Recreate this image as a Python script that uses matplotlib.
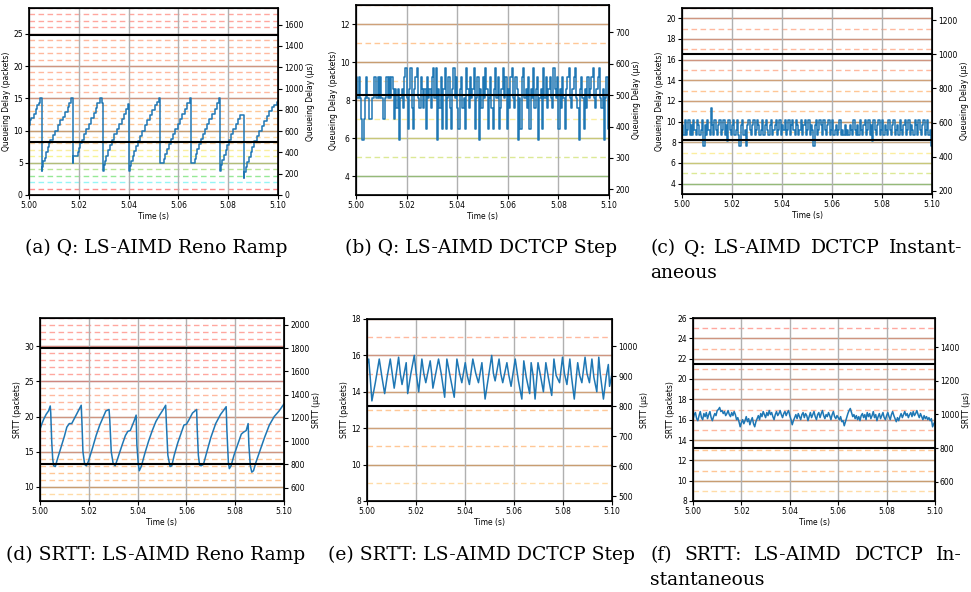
import matplotlib
matplotlib.use('Agg')
import matplotlib.pyplot as plt
from matplotlib.ticker import MultipleLocator, FormatStrFormatter
import numpy as np

US_PER_PKT = 60.56  # one 1514 B packet at 200 Mb/s, in microseconds

# (a) Q: LS-AIMD Reno Ramp -- step vertices, ms after 5.00 s / packets
a_ms = [0.0, 0.5, 1.0, 2.0, 2.8, 3.3, 4.2, 4.6, 5.1,
        5.4, 5.8, 6.3, 6.8, 7.5, 8.0, 8.6, 9.5, 10.5, 11.5, 12.5, 13.5, 14.5, 15.5, 16.2, 17.0, 17.6, 17.8,
        19.5, 20.0, 20.5, 21.2, 22.0, 23.0, 24.0, 25.0, 26.0, 26.8, 27.2, 28.5, 29.2, 29.6,
        30.0, 30.5, 31.0, 31.8, 32.5, 33.3, 34.3, 35.2, 36.2, 37.2, 38.0, 38.8, 39.6, 40.2,
        40.6, 41.0, 41.6, 42.2, 43.0, 43.7, 44.5, 45.5, 46.5, 47.5, 48.5, 49.5, 50.5, 51.5, 52.4, 52.8, 54.3,
        54.8, 55.5, 56.2, 57.0, 57.8, 58.8, 59.7, 60.6, 61.5, 62.5, 63.5, 64.6, 65.0, 66.6,
        67.0, 67.6, 68.2, 69.0, 69.8, 70.6, 71.5, 72.4, 73.4, 74.5, 75.5, 76.2, 76.9,
        77.2, 77.7, 78.2, 79.0, 79.7, 80.5, 81.2, 82.0, 83.0, 84.0, 84.8, 86.2,
        86.5, 87.0, 87.6, 88.2, 89.0, 89.7, 90.5, 91.5, 92.5, 93.5, 94.5, 95.5, 96.5, 97.5, 98.5, 99.5, 100.0]
a_q = [10.8, 11.6, 11.9, 12.6, 13.4, 13.9, 14.3, 15.1, 3.7,
       4.3, 5.2, 5.8, 6.6, 7.4, 8.1, 8.6, 9.3, 10.0, 10.8, 11.6, 12.1, 12.8, 13.6, 14.2, 15.1, 4.9, 6.0,
       6.6, 7.3, 8.0, 8.6, 9.5, 10.3, 11.0, 12.0, 12.7, 13.5, 14.3, 15.0, 14.3, 3.7,
       4.6, 5.3, 6.1, 7.0, 7.8, 8.6, 9.4, 10.2, 11.0, 11.8, 12.6, 13.4, 14.1, 3.7,
       4.5, 5.3, 6.1, 6.8, 7.6, 8.4, 9.2, 10.0, 10.8, 11.6, 12.4, 13.2, 13.9, 14.5, 15.1, 4.9, 5.6,
       6.3, 7.1, 7.9, 8.7, 9.4, 10.2, 11.0, 11.8, 12.6, 13.4, 14.2, 15.1, 4.9, 5.6,
       6.3, 7.1, 7.9, 8.7, 9.4, 10.2, 11.0, 11.8, 12.6, 13.4, 14.2, 15.0, 3.7,
       4.6, 5.4, 6.2, 7.0, 7.8, 8.6, 9.4, 10.2, 11.0, 11.8, 12.4, 2.7,
       3.6, 4.3, 5.1, 5.9, 6.7, 7.5, 8.3, 9.1, 9.9, 10.7, 11.5, 12.3, 13.1, 13.6, 13.9, 14.4, 14.6]

# (b) Q: LS-AIMD DCTCP Step -- one sample every 0.5 ms (packets)
b_q = [9.2, 8.1, 9.2, 8.1, 7.0, 5.9, 7.0, 8.1, 9.2, 8.1,
       7.0, 7.0, 7.0, 8.1, 9.2, 9.2, 8.1, 9.2, 8.1, 9.2,
       8.1, 7.0, 7.0, 8.1, 9.2, 8.1, 9.2, 8.1, 9.2, 8.6,
       7.0, 8.6, 7.6, 8.6, 5.9, 8.1, 8.6, 7.6, 9.2, 9.7,
       8.1, 6.5, 8.6, 9.7, 7.6, 6.5, 8.6, 9.2, 9.7, 8.1,
       7.6, 9.2, 8.6, 7.6, 8.6, 6.5, 9.2, 8.1, 8.6, 7.6,
       9.2, 9.7, 8.1, 9.7, 5.9, 8.6, 7.6, 9.2, 6.5, 8.6,
       9.7, 6.5, 8.1, 9.2, 7.6, 6.5, 8.6, 9.7, 8.1, 9.2,
       7.6, 6.5, 8.6, 9.2, 7.6, 8.1, 6.5, 9.7, 8.6, 7.6,
       9.2, 8.1, 8.6, 9.7, 6.5, 8.1, 9.2, 5.9, 8.6, 7.6,
       9.2, 8.1, 9.7, 8.6, 6.5, 8.1, 9.2, 7.6, 6.5, 8.6,
       9.7, 8.1, 9.2, 6.5, 7.6, 8.6, 9.7, 8.1, 9.2, 6.5,
       8.6, 7.6, 9.2, 9.7, 8.1, 7.6, 9.2, 8.6, 5.9, 8.1,
       6.5, 9.2, 9.7, 8.1, 8.6, 7.6, 9.2, 6.5, 8.6, 8.1,
       9.7, 7.6, 8.6, 9.2, 5.9, 8.1, 8.6, 6.5, 9.7, 8.1,
       9.2, 7.6, 8.6, 9.2, 8.1, 7.6, 9.7, 8.6, 8.1, 9.2,
       6.5, 8.6, 7.6, 9.2, 8.1, 6.5, 8.6, 9.2, 9.7, 8.1,
       7.6, 8.6, 9.2, 9.7, 8.1, 7.6, 5.9, 8.6, 9.2, 8.1,
       6.5, 8.6, 7.6, 9.2, 8.1, 8.6, 9.2, 9.7, 8.1, 7.6,
       8.6, 9.2, 9.7, 8.1, 7.6, 8.6, 5.9, 8.1, 9.2, 6.5,
       8.6]

# (c) Q: LS-AIMD DCTCP Instantaneous -- one sample every 0.5 ms (packets)
c_q = [9.7, 8.7, 10.2, 8.7, 9.2, 10.2, 8.7, 9.7, 8.7, 10.2,
       9.2, 8.7, 10.2, 9.7, 8.7, 9.2, 10.2, 7.6, 9.7, 8.7,
       10.2, 9.2, 8.7, 11.3, 9.7, 8.7, 10.2, 9.2, 8.7, 9.7,
       10.2, 8.7, 9.2, 10.2, 8.7, 9.7, 8.1, 10.2, 9.2, 8.7,
       9.7, 10.2, 8.7, 9.2, 10.2, 8.7, 7.6, 9.7, 10.2, 8.7,
       9.2, 7.6, 9.7, 10.2, 9.2, 8.7, 9.7, 10.2, 8.7, 9.2,
       10.2, 9.7, 8.7, 9.2, 10.2, 8.7, 9.7, 10.2, 9.2, 8.7,
       9.7, 10.2, 8.7, 9.2, 9.7, 10.2, 8.7, 9.2, 10.2, 8.7,
       9.7, 9.2, 10.2, 8.7, 9.2, 10.2, 8.7, 9.7, 10.2, 9.2,
       8.7, 10.2, 9.7, 8.7, 9.2, 10.2, 8.7, 9.7, 10.2, 8.7,
       9.2, 10.2, 8.7, 9.7, 9.2, 7.6, 9.7, 10.2, 8.7, 9.2,
       10.2, 9.7, 8.7, 10.2, 9.2, 8.7, 9.7, 10.2, 8.7, 9.2,
       10.2, 8.7, 9.2, 9.7, 8.7, 9.2, 10.2, 8.7, 9.2, 8.7,
       9.7, 8.7, 9.2, 8.7, 9.7, 9.2, 8.7, 10.2, 9.2, 8.7,
       9.7, 8.7, 10.2, 9.2, 8.7, 9.7, 10.2, 8.7, 9.2, 10.2,
       8.7, 9.7, 8.1, 10.2, 9.2, 8.7, 9.7, 10.2, 8.7, 9.2,
       10.2, 8.7, 9.7, 9.2, 8.7, 10.2, 9.2, 8.7, 9.7, 10.2,
       8.7, 9.2, 9.7, 8.7, 10.2, 9.2, 8.7, 9.7, 10.2, 8.7,
       9.2, 10.2, 8.7, 9.7, 9.2, 8.7, 10.2, 9.7, 8.7, 10.2,
       9.2, 8.7, 9.7, 10.2, 8.7, 9.2, 10.2, 8.7, 9.2, 7.6,
       7.6]

# (d) SRTT: LS-AIMD Reno Ramp -- line vertices (ms / packets)
d_ms = [0.0, 0.8, 1.5, 2.5, 3.5, 4.2, 4.4, 4.8, 5.2, 5.6, 6.3, 7.0, 8.5, 10.0, 11.0, 12.0, 13.0,
        14.5, 16.0, 16.9, 17.2, 17.6, 18.3, 19.0, 19.8, 21.5, 23.0, 24.5, 26.0, 27.0, 28.3,
        28.6, 29.2, 30.0, 30.8, 31.8, 33.5, 35.0, 36.0, 37.0, 38.5, 39.4, 39.7, 40.3, 40.7,
        41.5, 43.0, 44.5, 46.0, 47.5, 49.0, 50.5, 51.5, 51.8, 52.4, 53.3, 54.0, 55.0, 56.5,
        58.0, 59.0, 60.0, 61.0, 62.5, 64.2, 64.4, 64.9, 65.4, 66.0, 67.0, 68.0, 70.0, 72.0,
        74.0, 75.5, 76.3, 76.6, 77.2, 77.6, 78.3, 79.5, 81.0, 82.5, 83.5, 84.5, 85.3, 85.6,
        86.2, 86.8, 87.5, 88.5, 90.0, 92.0, 94.0, 96.0, 98.0, 100.0]
d_q = [18.2, 19.0, 19.6, 20.3, 20.8, 21.5, 20.5, 16.5, 14.0, 13.0, 12.9, 13.8, 15.5, 17.2, 18.5, 19.0, 19.0,
       20.0, 21.0, 21.6, 19.0, 15.0, 13.2, 13.0, 13.6, 15.5, 17.3, 18.8, 20.0, 20.8, 21.0,
       19.5, 15.0, 13.3, 13.0, 14.0, 15.8, 17.3, 17.9, 18.0, 19.3, 20.2, 16.0, 13.2, 12.3,
       12.9, 14.8, 16.5, 18.0, 19.3, 20.2, 21.0, 21.6, 19.0, 14.5, 12.9, 13.0, 14.5, 16.3,
       17.8, 18.8, 18.9, 19.5, 20.5, 21.0, 18.5, 14.5, 13.1, 13.0, 13.2, 14.5, 17.0, 19.0,
       20.3, 21.0, 21.4, 18.0, 13.5, 12.6, 13.0, 14.5, 16.0, 17.5, 17.8, 18.0, 19.0, 16.0,
       13.0, 12.1, 12.3, 13.5, 15.0, 17.0, 18.8, 20.0, 20.8, 21.8]

# (e) SRTT: LS-AIMD DCTCP Step -- line vertices (ms / packets)
e_ms = [0.0, 0.7, 1.3, 2.0, 3.4, 5.0, 6.1, 7.2, 8.2, 9.5, 10.3, 11.1, 12.9, 13.6, 14.3, 16.0,
        16.6, 17.9, 19.3, 20.1, 21.1, 22.4, 23.2, 24.0, 25.8, 26.4, 26.9, 29.2, 30.3, 31.7,
        32.6, 34.0, 35.6, 36.7, 37.8, 38.7, 40.1, 40.9, 41.8, 43.2, 44.4, 45.5, 46.9, 47.6,
        48.2, 50.9, 51.6, 52.3, 53.9, 54.6, 55.4, 57.1, 57.9, 58.8, 60.5, 61.8, 63.2, 64.0,
        65.0, 66.4, 67.0, 67.8, 68.6, 69.8, 70.8, 72.0, 73.0, 74.0, 75.4, 76.3, 77.2, 78.6,
        79.8, 80.6, 81.6, 82.8, 83.5, 84.6, 86.0, 86.8, 87.7, 89.0, 89.8, 90.8, 91.8, 92.6,
        93.8, 94.6, 95.2, 96.5, 97.6, 98.5, 99.0, 100.0]
e_q = [15.5, 15.8, 14.8, 13.5, 14.5, 15.8, 14.8, 13.9, 14.8, 15.8, 15.0, 14.2, 15.9, 15.0, 14.4, 15.6,
       13.9, 15.0, 16.0, 15.0, 14.0, 15.8, 15.0, 14.5, 15.7, 15.0, 14.2, 15.8, 15.0, 13.7,
       15.8, 14.8, 13.7, 15.8, 15.0, 14.5, 15.6, 14.9, 14.4, 15.8, 15.0, 14.5, 15.6, 14.5,
       13.6, 16.0, 15.0, 14.6, 15.8, 15.0, 14.5, 15.6, 14.9, 14.3, 15.8, 14.6, 13.6, 15.7,
       14.8, 13.9, 15.6, 14.9, 13.6, 15.6, 14.9, 14.0, 15.6, 14.8, 13.8, 15.8, 14.9, 14.5,
       15.9, 15.0, 14.4, 15.8, 14.8, 13.6, 15.6, 14.9, 14.5, 15.9, 15.0, 14.5, 15.8, 14.8,
       14.0, 15.9, 15.0, 13.6, 14.8, 15.5, 14.3, 15.0]

# (f) SRTT: LS-AIMD DCTCP Instantaneous -- one sample every 0.5 ms (packets)
f_q = [16.0, 16.5, 16.7, 16.1, 15.9, 16.4, 16.8, 16.2, 16.0, 16.6, 16.3, 16.7, 16.1, 16.5, 16.8, 16.2, 15.9, 16.3, 16.6, 16.4,
       16.9, 17.0, 17.2, 16.8, 16.9, 16.6, 16.8, 16.4, 16.6, 16.9, 16.5, 16.3, 16.7, 16.4, 16.8, 16.5, 16.0, 16.2, 15.8, 15.3,
       15.7, 16.0, 15.6, 15.9, 16.3, 15.8, 16.1, 15.5, 15.9, 16.2, 15.6, 15.3, 15.8, 16.1, 16.4, 16.0, 16.6, 16.3, 16.8, 16.5,
       16.2, 16.7, 16.4, 16.9, 16.5, 16.7, 16.3, 16.0, 16.5, 16.8, 16.4, 16.6, 16.9, 16.5, 16.2, 16.6, 16.8, 16.4, 16.7, 16.9,
       16.4, 16.0, 15.5, 15.9, 16.2, 16.5, 16.1, 16.6, 16.3, 16.0, 16.5, 16.7, 16.2, 16.6, 16.4, 15.9, 16.3, 16.7, 16.2, 16.5,
       16.8, 16.3, 16.0, 16.5, 16.7, 16.2, 16.6, 16.9, 16.4, 16.1, 16.5, 16.3, 16.7, 16.4, 16.0, 16.5, 16.8, 16.3, 16.1, 16.4,
       16.2, 16.0, 16.3, 15.8, 15.9, 15.4, 15.8, 16.2, 16.6, 16.9, 17.1, 16.7, 16.3, 16.5, 16.1, 16.4, 16.0, 16.3, 15.9, 16.4,
       16.6, 16.2, 16.5, 16.0, 16.7, 16.3, 16.6, 16.1, 16.4, 16.8, 16.2, 16.5, 15.9, 16.3, 16.6, 16.1, 16.4, 16.7, 16.2, 16.0,
       16.4, 16.7, 16.3, 16.0, 16.5, 16.8, 16.4, 16.1, 15.8, 16.2, 15.9, 16.3, 16.6, 16.2, 16.5, 16.8, 16.4, 16.6, 16.2, 16.5,
       16.7, 16.3, 16.8, 16.4, 16.6, 16.9, 16.5, 16.2, 16.6, 16.3, 16.0, 16.4, 16.1, 16.3, 16.0, 16.2, 15.9, 16.1, 15.3, 15.6,
       15.8]
SAMPLE_MS = 0.5

# colour of the reference line drawn at each whole packet count
LEVEL_COLOURS = {1: '#ff3030', 2: '#40eeee', 3: '#40d840', 4: '#80d040', 5: '#c0d840',
                 6: '#f0ee40', 7: '#f8e050', 8: '#f0b060', 9: '#ffc060', 10: '#f09030'}


def level_colour(v):
    if v in LEVEL_COLOURS:
        return LEVEL_COLOURS[v]
    if v < 15:
        return '#ff9a40'
    if v < 25:
        return '#ff8050'
    return '#ff6050'


W, H = 971, 592
fig = plt.figure(figsize=(W / 100, H / 100), dpi=100)
plt.rcParams['font.size'] = 5.5


def px_rect(l, r, t, b):
    return [l / W, 1 - b / H, (r - l) / W, (b - t) / H]


def panel(rect, ms, vals, ylim, major, rstep, marks_us, name, steps):
    ax = fig.add_axes(rect)
    ax.set_xlim(5.0, 5.1)
    ax.set_ylim(*ylim)
    ax.xaxis.set_major_locator(MultipleLocator(0.02))
    ax.xaxis.set_major_formatter(FormatStrFormatter('%.2f'))
    ax.yaxis.set_major_locator(MultipleLocator(major))
    ax.grid(axis='x', color='#b0b0b0', lw=1.0, zorder=0)
    for v in range(int(np.ceil(ylim[0])), int(ylim[1]) + 1):
        if v == 0:
            continue
        c = level_colour(v)
        if v % major == 0:
            ax.axhline(v, color='#a8a8a8', lw=1.0, zorder=1)
            ax.axhline(v, color=c, lw=1.0, alpha=0.45, zorder=1.1)
        else:
            ax.axhline(v, color=c, lw=1.0, ls=(0, (4, 2.5)), alpha=0.55, zorder=1)
    for m in marks_us:
        ax.axhline(m / US_PER_PKT, color='black', lw=1.5, zorder=3)
    x = 5.0 + np.asarray(ms) / 1000.0
    ax.plot(x, vals, color='#1f77b4', lw=1.1, zorder=2,
            drawstyle='steps-post' if steps else 'default')
    ax.set_xlabel('Time (s)', labelpad=1)
    ax.set_ylabel(name + ' (packets)', labelpad=1.5)
    ax.tick_params(labelsize=5.5, length=3, pad=1.5)
    for s in ax.spines.values():
        s.set_linewidth(1.2)
    ax2 = ax.twinx()
    ax2.set_ylim(ylim[0] * US_PER_PKT, ylim[1] * US_PER_PKT)
    ax2.yaxis.set_major_locator(MultipleLocator(rstep))
    ax2.set_ylabel(name + ' (µs)', labelpad=1.5)
    ax2.tick_params(labelsize=5.5, length=3, pad=1.5)
    return ax2


b_ms = np.arange(len(b_q)) * SAMPLE_MS
c_ms = np.arange(len(c_q)) * SAMPLE_MS
f_ms = np.arange(len(f_q)) * SAMPLE_MS

panel(px_rect(29, 278, 8, 195), a_ms, a_q, (0, 29), 5, 200, [500, 1500], 'Queueing Delay', True)
panel(px_rect(356, 609, 5, 195), b_ms, b_q, (3, 13), 2, 100, [500], 'Queueing Delay', True)
panel(px_rect(682, 932, 8, 194), c_ms, c_q, (3, 21), 2, 200, [500, 1000], 'Queueing Delay', True)
panel(px_rect(40, 284, 318, 501), d_ms, d_q, (8, 34), 5, 200, [800, 1800], 'SRTT', False)
panel(px_rect(367, 612, 319, 501), e_ms, e_q, (8, 18), 2, 100, [800], 'SRTT', False)
right_f = panel(px_rect(693, 935, 318, 501), f_ms, f_q, (8, 26), 2, 200, [800, 1300], 'SRTT', False)
# keep the last right-hand label inside the canvas, clear of its tick labels
right_f.tick_params(length=2.5, pad=1)
right_f.yaxis.set_label_coords((962 - 693) / 242, 0.5)

cap = dict(family='DejaVu Serif', fontsize=13.5, va='center')


def caption(text, xc, y):
    fig.text(xc / W, 1 - y / H, text, ha='center', **cap)


def justified(words, x0, x1, y):
    texts = [fig.text(0, 1 - y / H, w, ha='left', **cap) for w in words]
    r = fig.canvas.get_renderer()
    widths = [t.get_window_extent(r).width for t in texts]
    gap = (x1 - x0 - sum(widths)) / (len(words) - 1)
    x = x0
    for t, w in zip(texts, widths):
        t.set_x(x / W)
        x += w + gap


caption('(a) Q: LS-AIMD Reno Ramp', 156, 248)
caption('(b) Q: LS-AIMD DCTCP Step', 481, 248)
justified(['(c)', 'Q:', 'LS-AIMD', 'DCTCP', 'Instant-'], 650, 962, 248)
fig.text(650 / W, 1 - 273 / H, 'aneous', ha='left', **cap)
caption('(d) SRTT: LS-AIMD Reno Ramp', 156, 555)
caption('(e) SRTT: LS-AIMD DCTCP Step', 481, 555)
justified(['(f)', 'SRTT:', 'LS-AIMD', 'DCTCP', 'In-'], 650, 962, 555)
fig.text(650 / W, 1 - 580 / H, 'stantaneous', ha='left', **cap)

fig.savefig('out.png', dpi=100)
